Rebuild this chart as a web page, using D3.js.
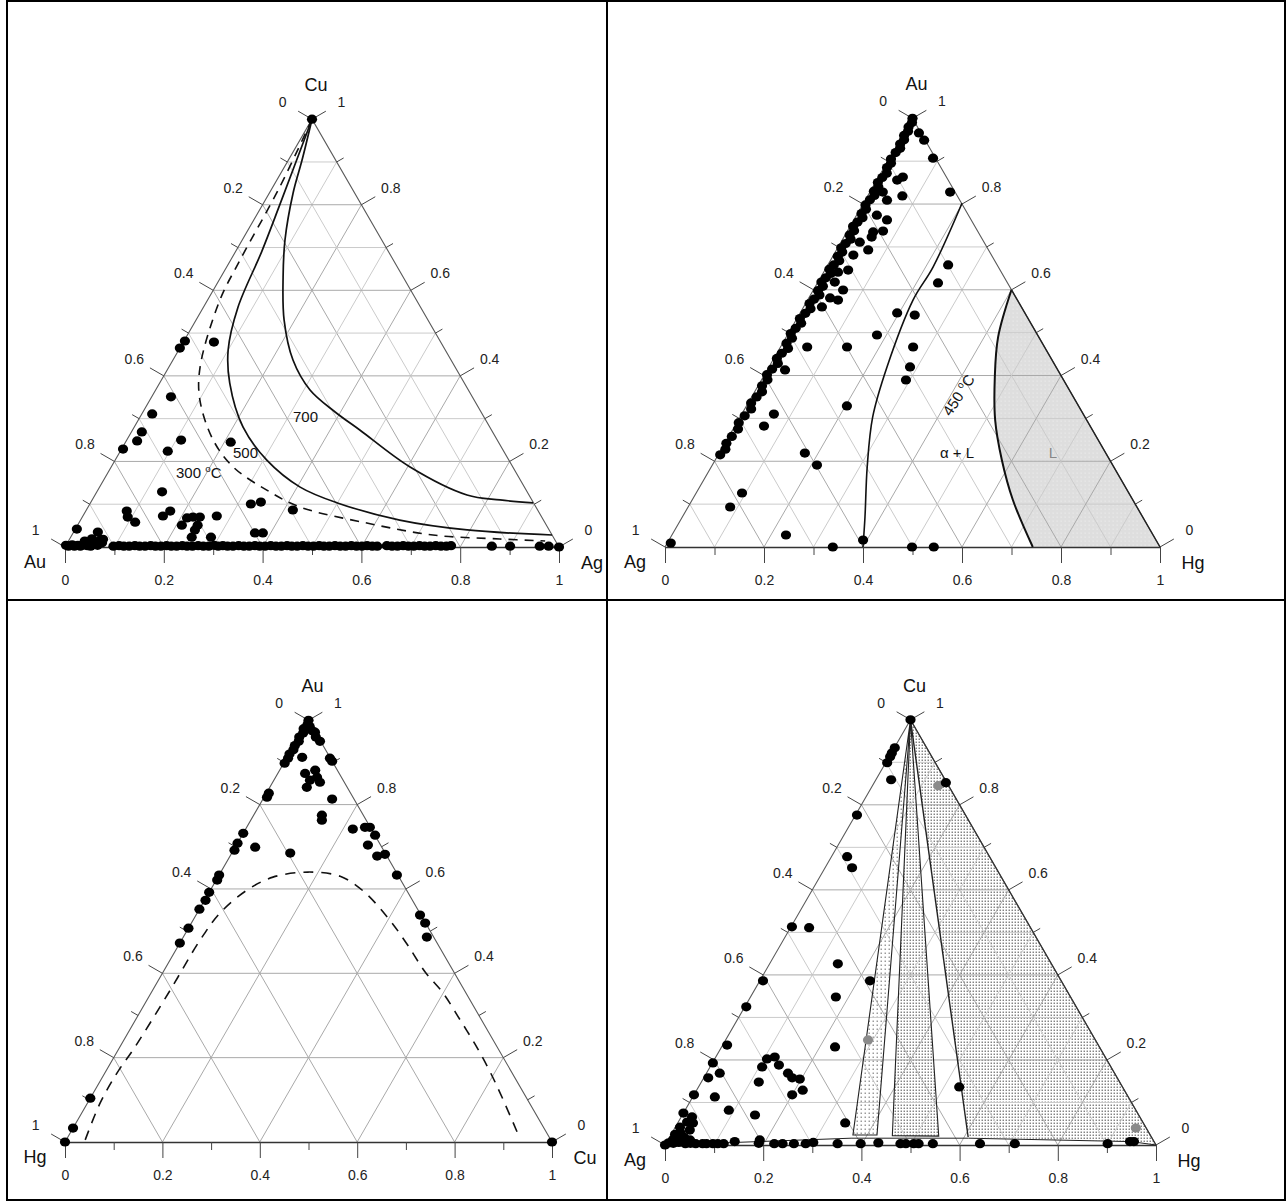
<!DOCTYPE html>
<html><head><meta charset="utf-8">
<script src="https://cdn.jsdelivr.net/npm/d3@7"></script>
<style>body{margin:0;background:#fff}svg{display:block}text{font-family:"Liberation Sans",Arial,sans-serif}</style>
</head><body><svg id="c" width="1288" height="1202"></svg>
<script>
// ---------------- DATA ----------------
// Tick values / grid values
const majorTicks = [0, 0.2, 0.4, 0.6, 0.8, 1];
const minorTicks = [0.1, 0.3, 0.5, 0.7, 0.9];
const fineGrid = [0.1, 0.2, 0.3, 0.4, 0.5, 0.6, 0.7, 0.8, 0.9];
const coarseGrid = [0.2, 0.4, 0.6, 0.8];
const tickLabel = v => (v === 0 ? "0" : v === 1 ? "1" : v.toFixed(1));

// Panel 1: Cu (top) – Au (left) – Ag (right). Pairs are [Ag, Cu].
const p1Scatter = [[0.002,0.4815],[0,0.465],[0.062,0.479],[0.039,0.351],[0.021,0.311],[0.021,0.269],[0.022,0.248],[0.003,0.229],[0.110,0.250],[0.096,0.224],[0.213,0.245],[0.132,0.129],[0.083,0.084],[0.092,0.070],[0.113,0.058],[0.162,0.0725],[0.171,0.084],[0.213,0.068],[0.211,0.051],[0.224,0.070],[0.238,0.070],[0.243,0.051],[0.243,0.040],[0.245,0.023],[0.271,0.0725],[0.284,0.023],[0.326,0.1005],[0.344,0.105],[0.418,0.0865],[0.368,0.033],[0.384,0.033],[0.003,0.042],[0.049,0.035],[0.045,0.019],[0.033,0.014],[0.063,0.016],[0,1]];
const p1Baseline = [[0,0.004],[0.006,0.002],[0.012,0.005],[0.018,0.002],[0.024,0.004],[0.03,0.002],[0.037,0.005],[0.044,0.003],[0.051,0.002],[0.057,0.006],[0.064,0.004],[0.07,0.01],[0.068,0.018],
[0.097,0.002],[0.108,0.003],[0.118,0.002],[0.129,0.002],[0.14,0.003],[0.15,0.002],[0.161,0.002],[0.172,0.003],[0.182,0.002],[0.193,0.002],[0.204,0.003],[0.214,0.002],[0.225,0.002],[0.236,0.003],[0.246,0.002],[0.257,0.002],[0.268,0.003],[0.279,0.002],[0.29,0.002],[0.3,0.004],[0.309,0.002],[0.318,0.003],[0.328,0.002],[0.339,0.002],[0.35,0.003],[0.361,0.002],[0.372,0.002],[0.383,0.003],[0.393,0.002],[0.404,0.002],[0.415,0.003],[0.426,0.002],[0.437,0.002],[0.448,0.003],[0.458,0.002],[0.469,0.002],[0.48,0.003],[0.491,0.002],[0.502,0.002],[0.513,0.003],[0.523,0.002],[0.534,0.002],[0.545,0.003],[0.556,0.002],[0.567,0.002],[0.578,0.003],[0.589,0.002],[0.6,0.002],[0.61,0.003],[0.621,0.002],[0.631,0.002],[0.65,0.003],[0.661,0.002],[0.672,0.002],[0.683,0.003],[0.694,0.002],[0.705,0.002],[0.716,0.003],[0.727,0.002],[0.738,0.002],[0.749,0.003],[0.76,0.002],[0.771,0.002],[0.78,0.003],
[0.863,0.002],[0.9,0.002],[0.96,0.002],[0.978,0.002],[1,0]];
const p1Iso700 = [[0,1],[0.0275,0.905],[0.048,0.8275],[0.0865,0.7176],[0.126,0.631],[0.178,0.531],[0.243,0.437],[0.3125,0.367],[0.389,0.3156],[0.46,0.2735],[0.605,0.187],[0.753,0.1216],[0.8256,0.11],[0.896,0.103]];
const p1Iso500 = [[0,1],[0.035,0.799],[0.053,0.69],[0.07,0.56],[0.10,0.4605],[0.142,0.383],[0.22,0.2805],[0.307,0.203],[0.406,0.14],[0.50,0.103],[0.646,0.063],[0.794,0.04],[0.972,0.028]];
const p1Iso300 = [[0,1],[0.014,0.8415],[0.019,0.671],[0.025,0.577],[0.063,0.421],[0.101,0.344],[0.175,0.25],[0.247,0.187],[0.342,0.133],[0.429,0.0935],[0.583,0.056],[0.731,0.028],[0.871,0.0187],[0.965,0.014]];

// Panel 2: Au (top) – Ag (left) – Hg (right). Pairs are [Hg, Au].
const p2EdgeCluster = [[0,1],[0.004,0.99],[0.002,0.98],[0.006,0.97],[0.003,0.96],[0.008,0.95],[0.005,0.94],[0.01,0.93],[0.006,0.92],[0.004,0.905],[0.009,0.895],[0.006,0.885],[0.012,0.872],[0.008,0.862],[0.005,0.85],[0.011,0.84],[0.007,0.83],[0.013,0.82],[0.009,0.81],[0.006,0.798],[0.012,0.788],[0.008,0.778],[0.015,0.768],[0.01,0.758],[0.006,0.748],[0.013,0.738],[0.009,0.728],[0.016,0.718],[0.011,0.708],[0.007,0.698],[0.014,0.688],[0.01,0.678],[0.018,0.668],[0.012,0.658],[0.008,0.648],[0.016,0.638],[0.011,0.628],[0.007,0.618],[0.015,0.608],[0.01,0.598],[0.018,0.588],[0.012,0.578],[0.008,0.568],[0.016,0.556],[0.011,0.545],[0.006,0.533],[0.014,0.522],[0.009,0.51],[0.005,0.498],[0.013,0.487],[0.008,0.475],[0.017,0.463],[0.01,0.452],[0.006,0.44],[0.014,0.428],[0.009,0.415],[0.005,0.402],[0.012,0.39],[0.008,0.376],[0.015,0.362],[0.01,0.35],[0.006,0.336],[0.013,0.322],[0.008,0.306],[0.004,0.29],[0.01,0.275],[0.006,0.258],[0.003,0.242],[0.008,0.228],[0.004,0.215]];
const p2Scatter = [[0.030,0.966],[0.049,0.949],[0.088,0.907],[0.162,0.828],[0.049,0.863],[0.041,0.856],[0.026,0.828],[0.044,0.809],[0.07,0.819],[0.041,0.774],[0.067,0.763],[0.053,0.735],[0.072,0.737],[0.038,0.711],[0.064,0.693],[0.056,0.723],[0.04,0.681],[0.243,0.658],[0.2435,0.616],[0.047,0.646],[0.029,0.641],[0.034,0.618],[0.06,0.5995],[0.043,0.581],[0.0615,0.576],[0.037,0.56],[0.196,0.546],[0.234,0.541],[0.181,0.4945],[0.054,0.4665],[0.1345,0.4665],[0.268,0.4665],[0.285,0.42],[0.292,0.3896],[0.036,0.413],[0.203,0.329],[0.065,0.31],[0.059,0.282],[0.173,0.219],[0.2115,0.191],[0.0926,0.126],[0.085,0.0933],[0.2304,0.028],[0.007,0.0093],[0.392,0.0163],[0.339,0],[0.499,0],[0.543,0]];
const p2Iso450 = [[0.199,0.802],[0.215,0.653],[0.213,0.576],[0.2385,0.42],[0.268,0.303],[0.315,0.187],[0.369,0.07],[0.40,0.0]];
const p2LiquidEdge = [[0.4,0.6],[0.428,0.49],[0.468,0.3966],[0.519,0.296],[0.579,0.203],[0.648,0.1096],[0.743,0]];

// Panel 3: Au (top) – Hg (left) – Cu (right). Pairs are [Cu, Au].
const p3Scatter = [[0,1],[0.003,0.99],[0,0.98],[0.004,0.97],[0.001,0.96],[0.005,0.95],[0.002,0.94],[0.004,0.93],[0.001,0.92],[0.003,0.91],[0.002,0.898],[0.005,0.827],[0.006,0.8175],[0,0.732],[0,0.7085],[0.002,0.692],[0,0.633],[0.002,0.621],[0,0.592],[0.002,0.573],[0,0.552],[0,0.507],[0,0.4716],[0,0.104],[0,0.033],[0,0],
[0.01,0.985],[0.02,0.975],[0.0275,0.9716],[0.035,0.96],[0.0486,0.95],[0.089,0.91],[0.097,0.903],
[0.031,0.912],[0.056,0.874],[0.073,0.8815],[0.074,0.858],[0.085,0.865],[0.076,0.841],[0.097,0.853],[0.14,0.775],[0.146,0.763],[0.041,0.699],[0.12,0.685],[0.142,0.813],
[0.22,0.742],[0.243,0.746],[0.253,0.746],[0.273,0.7275],[0.27,0.704],[0.302,0.678],[0.316,0.682],[0.365,0.633],[0.46,0.538],[0.48,0.519],[0.50,0.486],[1,0]];
const p3Dashed = [[0.039,0.005],[0.026,0.092],[0.025,0.164],[0.031,0.225],[0.036,0.36],[0.038,0.479],[0.047,0.543],[0.075,0.597],[0.113,0.628],[0.179,0.64],[0.25,0.63],[0.315,0.595],[0.398,0.531],[0.468,0.469],[0.538,0.403],[0.60,0.353],[0.665,0.291],[0.726,0.232],[0.79,0.166],[0.848,0.102],[0.931,0.007]];

// Panel 4: Cu (top) – Ag (left) – Hg (right). Pairs are [Hg, Cu].
const p4Scatter = [[0,1],[0.001,0.934],[0.001,0.922],[0.002,0.913],[0.003,0.899],[0.031,0.859],[0.003,0.776],[0.032,0.678],[0.055,0.652],[0.002,0.513],[0.038,0.511],[0.146,0.852],[0.139,0.426],[0.2245,0.386],[0.0066,0.386],[0.174,0.348],[0.003,0.325],[0.231,0.2306],[0.009,0.235],[0.001,0.193],[0.027,0.169],[0.009,0.158],[0.1065,0.2024],[0.12,0.207],[0.138,0.188],[0.106,0.1835],[0.117,0.148],[0.166,0.169],[0.18,0.158],[0.197,0.155],[0.216,0.129],[0.20,0.118],[0,0.118],[0.045,0.113],[0.089,0.082],[0.148,0.0706],[0,0.075],[0.022,0.066],[0.018,0.054],[0.0095,0.042],[0.031,0.052],[0.033,0.035],[0.341,0.052],[0.531,0.1365],
[0,0],[0.005,0.005],[0.01,0.012],[0.015,0.004],[0.02,0.015],[0.025,0.006],[0.03,0.018],[0.035,0.008],[0.04,0.003],[0.045,0.012],[0.008,0.025],[0.018,0.028],[0.05,0.004],
[0.061,0.003],[0.075,0.003],[0.083,0.003],[0.096,0.003],[0.106,0.003],[0.118,0.003],[0.138,0.008],[0.187,0.012],[0.189,0.004],[0.221,0.003],[0.238,0.003],[0.261,0.003],[0.285,0.003],[0.299,0.006],[0.350,0.003],[0.397,0.003],[0.432,0.005],[0.478,0.003],[0.489,0.003],[0.505,0.003],[0.515,0.003],[0.544,0.003],[0.640,0.003],[0.711,0.003],[0.900,0.003],[0.943,0.008],[0.951,0.008]];
const p4GreyPoints = [[0.134,0.845],[0.29,0.247],[0.939,0.04]];
const p4Sliver = [[0,1],[0.371,0.0235],[0.420,0.0235]];
const p4Stripe = [[0,1],[0.452,0.022],[0.547,0.021]];
const p4Wedge = [[0,1],[0.608,0.0188],[0.945,0.008],[1,0]];
const p4BaseLine = [[0,0],[0.371,0.016],[0.61,0.016],[0.945,0.008],[1,0]];

// ---------------- DRAWING ----------------
const svg = d3.select("#c");
const defs = svg.append("defs");
function pattern(id, size, dot, bg, fg) {
  const p = defs.append("pattern").attr("id", id).attr("width", size).attr("height", size).attr("patternUnits", "userSpaceOnUse");
  p.append("rect").attr("width", size).attr("height", size).attr("fill", bg);
  p.append("rect").attr("x", 0.6).attr("y", 0.6).attr("width", dot).attr("height", dot).attr("fill", fg);
}
pattern("denseDots", 3, 1.25, "#fff", "#555");
pattern("sparseDots", 4, 1.2, "#fff", "#666");
pattern("liqDots", 4, 1, "#dedede", "#f2f2f2");

const C30 = Math.cos(Math.PI / 6), S30 = 0.5;

function panel(cfg) {
  const h = cfg.side * Math.sqrt(3) / 2;
  const xs = d3.scaleLinear().domain([0, 1]).range([cfg.ox, cfg.ox + cfg.side]);
  const ys = d3.scaleLinear().domain([0, 1]).range([cfg.oy, cfg.oy - h]);
  const P = (r, t) => [xs(r + t / 2), ys(t)];
  const g = svg.append("g");
  const L = {};
  ["shade", "grid", "frame", "lines", "dots", "text"].forEach(k => L[k] = g.append("g"));

  // grid
  cfg.grid.forEach(k => {
    const major = Math.abs(k * 5 - Math.round(k * 5)) < 1e-6;
    [[P(0, k), P(1 - k, k)], [P(k, 0), P(k, 1 - k)], [P(1 - k, 0), P(0, 1 - k)]].forEach(s => {
      L.grid.append("line").attr("x1", s[0][0]).attr("y1", s[0][1]).attr("x2", s[1][0]).attr("y2", s[1][1])
        .attr("stroke", major ? "#a9a9a9" : "#cbcbcb").attr("stroke-width", 1);
    });
  });
  // triangle edges
  const A = P(0, 0), B = P(1, 0), T = P(0, 1);
  L.frame.append("path").attr("d", `M${A}L${T}L${B}`).attr("fill", "none").attr("stroke", "#5a5a5a").attr("stroke-width", 1.1);

  // bottom axis via d3.axisBottom
  const ax = L.frame.append("g").attr("transform", `translate(0,${cfg.oy})`)
    .call(d3.axisBottom(xs).tickValues(majorTicks).tickSize(16).tickPadding(12).tickFormat(tickLabel).tickSizeOuter(0));
  ax.select(".domain").attr("stroke", "#333").attr("stroke-width", 1.3);
  ax.selectAll(".tick line").attr("stroke", "#444");
  ax.selectAll("text").attr("font-size", 14).attr("fill", "#222").attr("font-family", '"Liberation Sans",Arial,sans-serif');
  const axm = L.frame.append("g").attr("transform", `translate(0,${cfg.oy})`)
    .call(d3.axisBottom(xs).tickValues(minorTicks).tickSize(8).tickFormat("").tickSizeOuter(0));
  axm.select(".domain").remove();
  axm.selectAll(".tick line").attr("stroke", "#444");

  // left and right side ticks
  function sideTicks(vals, len, base, dir, labels) {
    vals.forEach(v => {
      const p = base(v);
      L.frame.append("line").attr("x1", p[0]).attr("y1", p[1]).attr("x2", p[0] + dir[0] * len).attr("y2", p[1] + dir[1] * len)
        .attr("stroke", "#444").attr("stroke-width", 1);
      if (labels) L.text.append("text").attr("x", p[0] + dir[0] * 34).attr("y", p[1] + dir[1] * 34 + 5)
        .attr("text-anchor", "middle").attr("font-size", 14).attr("fill", "#222").text(tickLabel(v));
    });
  }
  const leftBase = v => P(0, 1 - v), rightBase = v => P(1 - v, v);
  sideTicks(majorTicks, 16, leftBase, [-C30, -S30], true);
  sideTicks(minorTicks, 8, leftBase, [-C30, -S30], false);
  sideTicks(majorTicks, 16, rightBase, [C30, -S30], true);
  sideTicks(minorTicks, 8, rightBase, [C30, -S30], false);

  // vertex labels
  const vl = (p, dx, dy, s) => L.text.append("text").attr("x", p[0] + dx).attr("y", p[1] + dy + 6)
    .attr("text-anchor", "middle").attr("font-size", 18).attr("fill", "#111").text(s);
  vl(T, 4, -34, cfg.top);
  vl(A, -30, 15, cfg.left);
  vl(B, 33, 16, cfg.right);

  const curve = d3.line().x(d => P(d[0], d[1])[0]).y(d => P(d[0], d[1])[1]).curve(d3.curveCatmullRom.alpha(0.5));
  const straight = d3.line().x(d => P(d[0], d[1])[0]).y(d => P(d[0], d[1])[1]);
  const dots = (data, r, fill) => L.dots.selectAll(null).data(data).join("ellipse")
    .attr("cx", d => P(d[0], d[1])[0]).attr("cy", d => P(d[0], d[1])[1]).attr("rx", r + 0.3).attr("ry", r - 0.2).attr("fill", fill);
  return { P, L, curve, straight, dots };
}

// table frame
const frameXs = [7, 607, 1285], frameYs = [1, 600, 1200];
const fr = svg.append("g").attr("stroke", "#000").attr("stroke-width", 2);
frameXs.forEach(x => fr.append("line").attr("x1", x).attr("x2", x).attr("y1", frameYs[0] - 1).attr("y2", frameYs[2] + 1));
frameYs.forEach(y => fr.append("line").attr("y1", y).attr("y2", y).attr("x1", frameXs[0] - 1).attr("x2", frameXs[2] + 1));

function supText(g, x, y, main, sup, tail, size, rot) {
  const t = g.append("text").attr("x", x).attr("y", y).attr("font-size", size).attr("fill", "#111");
  if (rot) t.attr("transform", `rotate(${rot},${x},${y})`).attr("text-anchor", "middle");
  t.append("tspan").text(main);
  t.append("tspan").attr("font-size", size * 0.65).attr("dy", -size * 0.4).text(sup);
  t.append("tspan").attr("dy", size * 0.4).text(tail);
  return t;
}

// ---- Panel 1 ----
{
  const p = panel({ ox: 65, oy: 547, side: 494, grid: fineGrid, top: "Cu", left: "Au", right: "Ag" });
  p.L.lines.append("path").attr("d", p.curve(p1Iso700)).attr("fill", "none").attr("stroke", "#111").attr("stroke-width", 1.7);
  p.L.lines.append("path").attr("d", p.curve(p1Iso500)).attr("fill", "none").attr("stroke", "#111").attr("stroke-width", 1.7);
  p.L.lines.append("path").attr("d", p.curve(p1Iso300)).attr("fill", "none").attr("stroke", "#111").attr("stroke-width", 1.6).attr("stroke-dasharray", "9,7");
  p.dots(p1Baseline, 4.8, "#000");
  p.dots(p1Scatter, 4.8, "#000");
  p.L.text.append("text").attr("x", 293).attr("y", 422).attr("font-size", 15).attr("fill", "#111").text("700");
  p.L.text.append("text").attr("x", 233).attr("y", 458).attr("font-size", 15).attr("fill", "#111").text("500");
  supText(p.L.text, 176, 478, "300 ", "o", "C", 15);
}

// ---- Panel 2 ----
{
  const p = panel({ ox: 665, oy: 547, side: 495, grid: fineGrid, top: "Au", left: "Ag", right: "Hg" });
  const P = p.P;
  const d = p.curve(p2LiquidEdge) + `L${P(1, 0)}L${P(0.4, 0.6)}Z`;
  p.L.shade.append("path").attr("d", d).attr("fill", "url(#liqDots)");
  p.L.lines.append("path").attr("d", p.curve(p2LiquidEdge)).attr("fill", "none").attr("stroke", "#111").attr("stroke-width", 2);
  p.L.lines.append("path").attr("d", `M${P(0.4, 0.6)}L${P(1, 0)}`).attr("stroke", "#222").attr("stroke-width", 1.4);
  p.L.lines.append("path").attr("d", p.curve(p2Iso450)).attr("fill", "none").attr("stroke", "#111").attr("stroke-width", 1.6);
  p.dots(p2EdgeCluster, 4.8, "#000");
  p.dots(p2Scatter, 4.8, "#000");
  supText(p.L.text, 963, 398, "450 ", "o", "C", 15, -57);
  p.L.text.append("text").attr("x", 957).attr("y", 458).attr("text-anchor", "middle").attr("font-size", 15).attr("fill", "#111").text("α + L");
  p.L.text.append("text").attr("x", 1053).attr("y", 458).attr("text-anchor", "middle").attr("font-size", 15).attr("fill", "#888").text("L");
}

// ---- Panel 3 ----
{
  const p = panel({ ox: 65, oy: 1142, side: 487, grid: coarseGrid, top: "Au", left: "Hg", right: "Cu" });
  p.L.lines.append("path").attr("d", p.curve(p3Dashed)).attr("fill", "none").attr("stroke", "#111").attr("stroke-width", 1.6).attr("stroke-dasharray", "10,8");
  p.dots(p3Scatter, 4.8, "#000");
}

// ---- Panel 4 ----
{
  const p = panel({ ox: 665, oy: 1145, side: 491, grid: fineGrid, top: "Cu", left: "Ag", right: "Hg" });
  p.L.shade.append("path").attr("d", p.straight(p4Sliver) + "Z").attr("fill", "url(#sparseDots)");
  p.L.shade.append("path").attr("d", p.straight(p4Stripe) + "Z").attr("fill", "url(#denseDots)");
  p.L.shade.append("path").attr("d", p.straight(p4Wedge) + "Z").attr("fill", "url(#denseDots)");
  [p4Sliver, p4Stripe].forEach(s => p.L.lines.append("path").attr("d", p.straight(s) + "Z").attr("fill", "none").attr("stroke", "#222").attr("stroke-width", 1.1));
  p.L.lines.append("path").attr("d", p.straight(p4Wedge.slice(0, 2))).attr("fill", "none").attr("stroke", "#222").attr("stroke-width", 1.4);
  p.L.lines.append("path").attr("d", p.straight([p4Wedge[0], p4Wedge[3]])).attr("fill", "none").attr("stroke", "#333").attr("stroke-width", 1.2);
  p.L.lines.append("path").attr("d", p.straight(p4BaseLine)).attr("fill", "none").attr("stroke", "#222").attr("stroke-width", 1);
  p.dots(p4GreyPoints, 4.8, "#8a8a8a");
  p.dots(p4Scatter, 4.8, "#000");
}
</script></body></html>
